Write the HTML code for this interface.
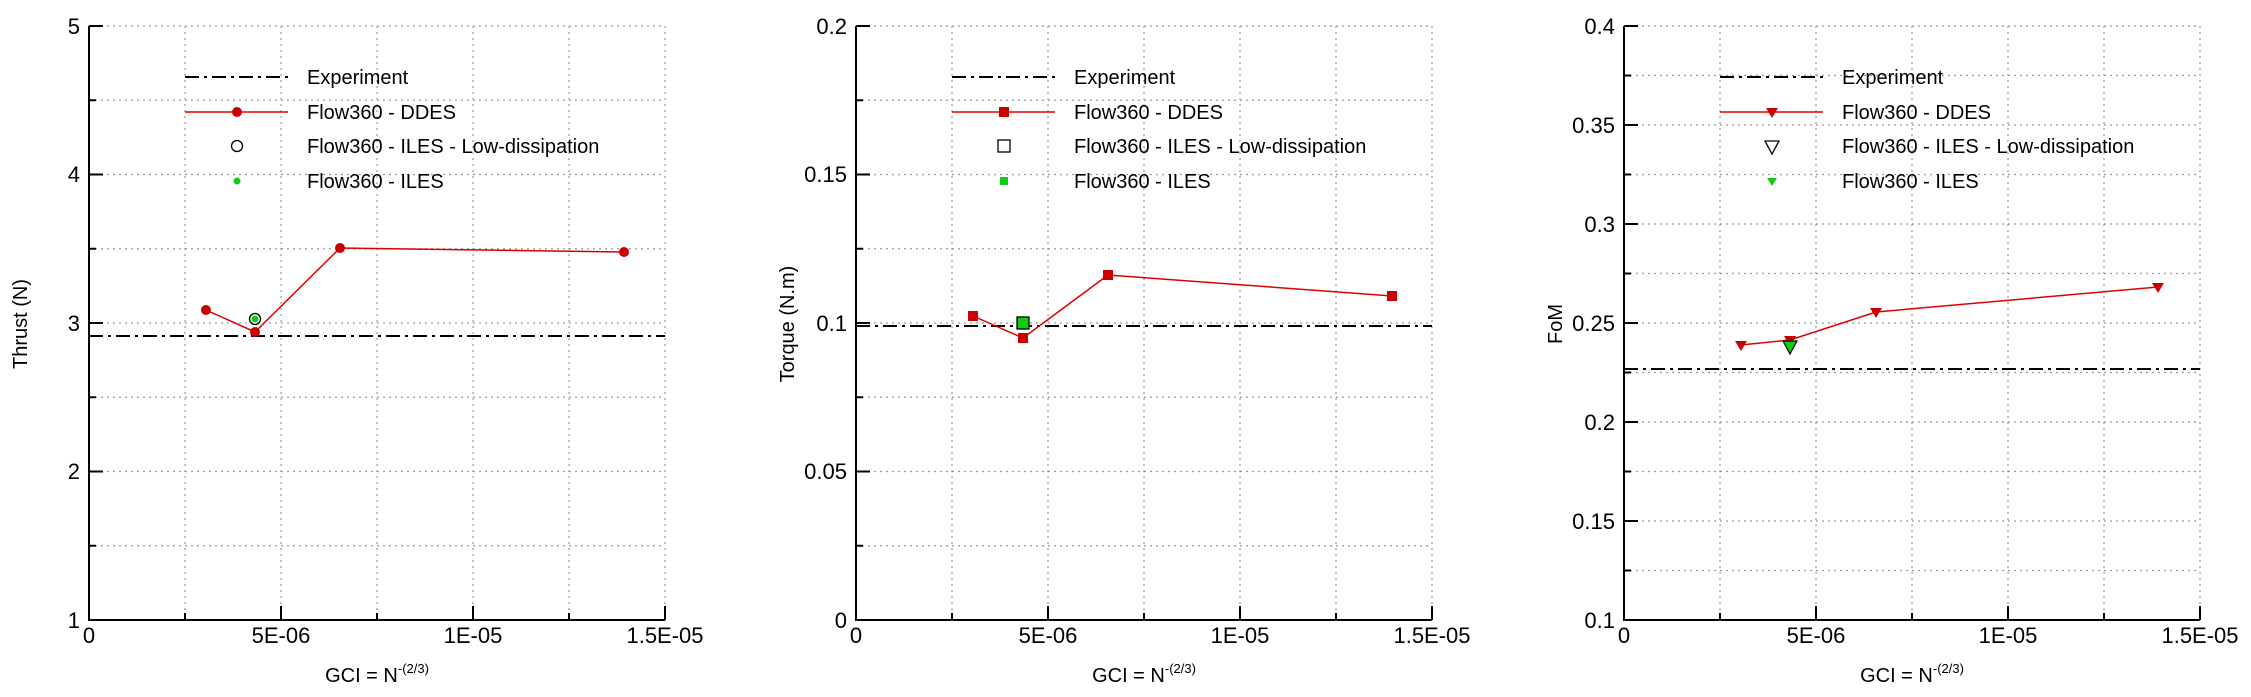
<!DOCTYPE html>
<html><head><meta charset="utf-8"><style>
html,body{margin:0;padding:0;background:#fff}
svg{display:block;font-family:"Liberation Sans",Arial,sans-serif}
</style></head><body>
<svg width="2251" height="697" viewBox="0 0 2251 697" xmlns="http://www.w3.org/2000/svg">
<defs>
<g id="frame">
  <g stroke="#999" stroke-width="1.2" stroke-dasharray="2,4" fill="none">
    <path d="M96 26V620M192 26V620M288 26V620M384 26V620M480 26V620M576 26V620"/>
  </g>
  <g stroke="#000" stroke-width="2" fill="none">
    <path d="M0 26V620H576"/>
    <path d="M192 620V606M384 620V606M576 620V606M96 620V613M288 620V613M480 620V613"/>
  </g>
  <g font-size="22" text-anchor="middle">
    <text x="0" y="643">0</text>
    <text x="192" y="643">5E-06</text>
    <text x="384" y="643">1E-05</text>
    <text x="576" y="643">1.5E-05</text>
    <text x="288" y="682" font-size="20">GCI = N<tspan dy="-9" font-size="13">-(2/3)</tspan></text>
  </g>
  <g font-size="20">
    <text x="218" y="84">Experiment</text>
    <text x="218" y="119">Flow360 - DDES</text>
    <text x="218" y="153">Flow360 - ILES - Low-dissipation</text>
    <text x="218" y="188">Flow360 - ILES</text>
  </g>
  <path d="M96 77H199" stroke="#000" stroke-width="2" stroke-dasharray="14,5,3,5"/>
  <path d="M96 112H199" stroke="#d00" stroke-width="1.5"/>
</g>
<g id="ygrid8">
  <path d="M0 26H576M0 100.25H576M0 174.5H576M0 248.75H576M0 323H576M0 397.25H576M0 471.5H576M0 545.75H576" stroke="#999" stroke-width="1.2" stroke-dasharray="2,4" fill="none"/>
  <path d="M0 26H14M0 174.5H14M0 323H14M0 471.5H14M0 100.25H7M0 248.75H7M0 397.25H7M0 545.75H7" stroke="#000" stroke-width="2" fill="none"/>
</g>
</defs>

<!-- Panel 1 -->
<g transform="translate(89,0)">
  <use href="#ygrid8"/>
  <use href="#frame"/>
  <g font-size="22" text-anchor="end">
    <text x="-9" y="34">5</text><text x="-9" y="182">4</text><text x="-9" y="331">3</text><text x="-9" y="479">2</text><text x="-9" y="628">1</text>
  </g>
  <text transform="translate(-62,324) rotate(-90)" font-size="20" text-anchor="middle">Thrust (N)</text>
  <path d="M0 336H576" stroke="#000" stroke-width="2" stroke-dasharray="14,5,3,5"/>
  <polyline points="117,310 166,332 251,248 535,252" fill="none" stroke="#d00" stroke-width="1.5"/>
  <g fill="#c00">
    <circle cx="117" cy="310" r="5"/><circle cx="166" cy="332" r="5"/><circle cx="251" cy="248" r="5"/><circle cx="535" cy="252" r="5"/>
    <circle cx="148" cy="112" r="5"/>
  </g>
  <circle cx="166" cy="319" r="5.5" fill="none" stroke="#000" stroke-width="1.3"/>
  <circle cx="166" cy="319" r="3.5" fill="#1c1"/>
  <circle cx="148" cy="146" r="5.5" fill="none" stroke="#000" stroke-width="1.3"/>
  <circle cx="148" cy="181" r="3.5" fill="#1c1"/>
</g>

<!-- Panel 2 -->
<g transform="translate(856,0)">
  <use href="#ygrid8"/>
  <use href="#frame"/>
  <g font-size="22" text-anchor="end">
    <text x="-9" y="34">0.2</text><text x="-9" y="182">0.15</text><text x="-9" y="331">0.1</text><text x="-9" y="479">0.05</text><text x="-9" y="628">0</text>
  </g>
  <text transform="translate(-62,324) rotate(-90)" font-size="20" text-anchor="middle">Torque (N.m)</text>
  <path d="M0 326H576" stroke="#000" stroke-width="2" stroke-dasharray="14,5,3,5"/>
  <polyline points="117,316 167,338 252,275 536,296" fill="none" stroke="#d00" stroke-width="1.5"/>
  <g fill="#c00">
    <rect x="112" y="311" width="10" height="10"/><rect x="162" y="333" width="10" height="10"/><rect x="247" y="270" width="10" height="10"/><rect x="531" y="291" width="10" height="10"/>
    <rect x="143" y="107" width="10" height="10"/>
  </g>
  <rect x="161" y="317" width="12" height="12" fill="#1c1" stroke="#000" stroke-width="1.3"/>
  <rect x="142" y="140" width="12" height="12" fill="none" stroke="#000" stroke-width="1.3"/>
  <rect x="144" y="177" width="8" height="8" fill="#1c1"/>
</g>

<!-- Panel 3 -->
<g transform="translate(1624,0)">
  <path d="M0 26H576M0 75.5H576M0 125H576M0 174.5H576M0 224H576M0 273.5H576M0 323H576M0 372.5H576M0 422H576M0 471.5H576M0 521H576M0 570.5H576" stroke="#999" stroke-width="1.2" stroke-dasharray="2,4" fill="none"/>
  <path d="M0 26H14M0 125H14M0 224H14M0 323H14M0 422H14M0 521H14M0 75.5H7M0 174.5H7M0 273.5H7M0 372.5H7M0 471.5H7M0 570.5H7" stroke="#000" stroke-width="2" fill="none"/>
  <use href="#frame"/>
  <g font-size="22" text-anchor="end">
    <text x="-9" y="34">0.4</text><text x="-9" y="133">0.35</text><text x="-9" y="232">0.3</text><text x="-9" y="331">0.25</text><text x="-9" y="430">0.2</text><text x="-9" y="529">0.15</text><text x="-9" y="628">0.1</text>
  </g>
  <text transform="translate(-62,324) rotate(-90)" font-size="20" text-anchor="middle">FoM</text>
  <path d="M0 369H576" stroke="#000" stroke-width="2" stroke-dasharray="14,5,3,5"/>
  <polyline points="117,345 166,340 252,312 534,287" fill="none" stroke="#d00" stroke-width="1.5"/>
  <g fill="#c00">
    <path d="M111 341H123L117 351Z"/><path d="M160 336H172L166 346Z"/><path d="M246 308H258L252 318Z"/><path d="M528 283H540L534 293Z"/>
    <path d="M142 108H154L148 118Z"/>
  </g>
  <path d="M159 341H173L166 354Z" fill="#1c1" stroke="#000" stroke-width="1.2"/>
  <path d="M141 141H155L148 154Z" fill="none" stroke="#000" stroke-width="1.3"/>
  <path d="M143 178H153L148 186Z" fill="#1c1"/>
</g>
</svg>
</body></html>
